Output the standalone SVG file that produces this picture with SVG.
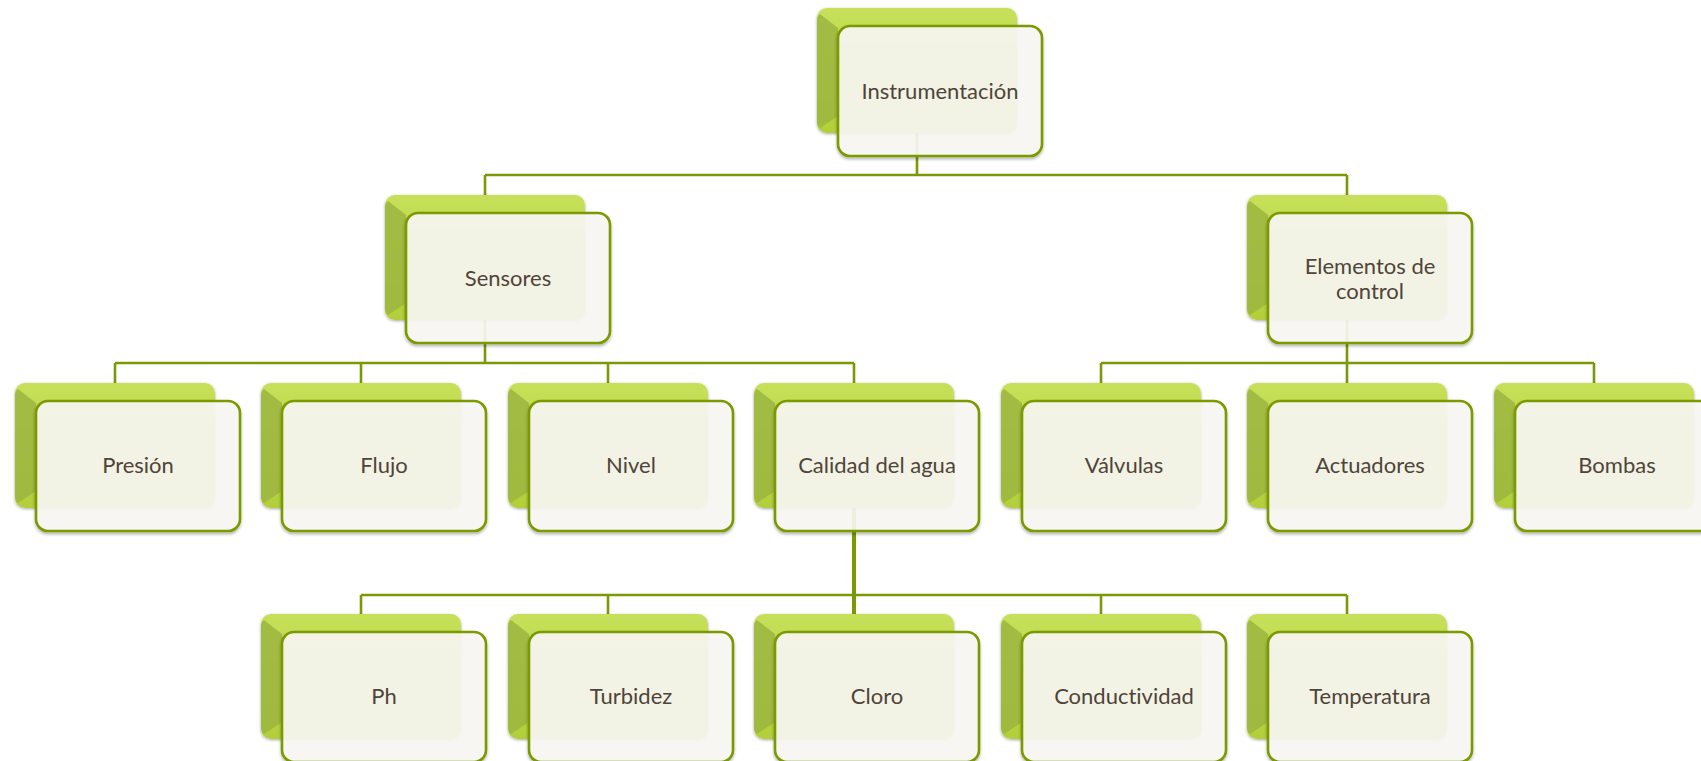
<svg xmlns="http://www.w3.org/2000/svg" width="1701" height="761" viewBox="0 0 1701 761">
<style>
.bk{fill:url(#gBack);filter:url(#fBack)}
.bv{fill:#9cb53f;opacity:0.85}
.fr{fill:#f9f8f4;fill-opacity:0.9;stroke:#7a9a05;stroke-width:2.6;filter:url(#fFront)}
.t{font-family:Lato,"Open Sans",sans-serif;font-size:22px;fill:#4f4439;text-anchor:middle;font-variant-ligatures:none;font-feature-settings:"liga" 0}
.c{fill:none;stroke:#7a9a05;stroke-width:2.6}
.ct{fill:none;stroke:#7a9a05;stroke-width:4}
</style>
<defs>
<linearGradient id="gBack" x1="0" y1="0" x2="0" y2="1">
<stop offset="0" stop-color="#c6e05a"/>
<stop offset="1" stop-color="#b2cf3a"/>
</linearGradient>
<filter id="fBack" x="-10%" y="-10%" width="120%" height="120%">
<feDropShadow dx="0" dy="1" stdDeviation="1.6" flood-color="#000" flood-opacity="0.35"/>
</filter>
<filter id="fFront" x="-10%" y="-10%" width="120%" height="125%">
<feDropShadow dx="0" dy="2" stdDeviation="1.5" flood-color="#000" flood-opacity="0.3"/>
</filter>
<g id="nb">
<rect class="bk" x="0" y="0" width="200" height="125" rx="10"/>
<path class="bv" d="M3,6 L21,20 L21,108 L3,120 Q0,118 0,112 L0,12 Q0,8 3,6 Z"/>
</g>
<rect id="nf" class="fr" x="21" y="18" width="204" height="130" rx="12"/>
</defs>

<g id="connectors">
<path class="c" d="M917,133 V175 M485,175 H1347 M485,175 V195 M1347,175 V195"/>
<path class="c" d="M485,320 V363 M115,363 H854 M115,363 V383 M361,363 V383 M608,363 V383 M854,363 V383"/>
<path class="c" d="M1347,320 V363 M1101,363 H1594 M1101,363 V383 M1347,363 V383 M1594,363 V383"/>
<path class="ct" d="M854,508 V614"/>
<path class="c" d="M361,595 H1347 M361,595 V614 M608,595 V614 M1101,595 V614 M1347,595 V614"/>
</g>

<g id="n-instrumentacion" transform="translate(817,8)"><use href="#nb"/><use href="#nf"/><text class="t" x="123" y="91">Instrumentación</text></g>
<g id="n-sensores" transform="translate(385,195)"><use href="#nb"/><use href="#nf"/><text class="t" x="123" y="91">Sensores</text></g>
<g id="n-elementos" transform="translate(1247,195)"><use href="#nb"/><use href="#nf"/><text class="t" x="123" y="79">Elementos de</text><text class="t" x="123" y="104">control</text></g>

<g id="n-presion" transform="translate(15,383)"><use href="#nb"/><use href="#nf"/><text class="t" x="123" y="90">Presión</text></g>
<g id="n-flujo" transform="translate(261,383)"><use href="#nb"/><use href="#nf"/><text class="t" x="123" y="90">Flujo</text></g>
<g id="n-nivel" transform="translate(508,383)"><use href="#nb"/><use href="#nf"/><text class="t" x="123" y="90">Nivel</text></g>
<g id="n-calidad" transform="translate(754,383)"><use href="#nb"/><use href="#nf"/><text class="t" x="123" y="90">Calidad del agua</text></g>
<g id="n-valvulas" transform="translate(1001,383)"><use href="#nb"/><use href="#nf"/><text class="t" x="123" y="90">Válvulas</text></g>
<g id="n-actuadores" transform="translate(1247,383)"><use href="#nb"/><use href="#nf"/><text class="t" x="123" y="90">Actuadores</text></g>
<g id="n-bombas" transform="translate(1494,383)"><use href="#nb"/><use href="#nf"/><text class="t" x="123" y="90">Bombas</text></g>

<g id="n-ph" transform="translate(261,614)"><use href="#nb"/><use href="#nf"/><text class="t" x="123" y="90">Ph</text></g>
<g id="n-turbidez" transform="translate(508,614)"><use href="#nb"/><use href="#nf"/><text class="t" x="123" y="90">Turbidez</text></g>
<g id="n-cloro" transform="translate(754,614)"><use href="#nb"/><use href="#nf"/><text class="t" x="123" y="90">Cloro</text></g>
<g id="n-conductividad" transform="translate(1001,614)"><use href="#nb"/><use href="#nf"/><text class="t" x="123" y="90">Conductividad</text></g>
<g id="n-temperatura" transform="translate(1247,614)"><use href="#nb"/><use href="#nf"/><text class="t" x="123" y="90">Temperatura</text></g>
</svg>
